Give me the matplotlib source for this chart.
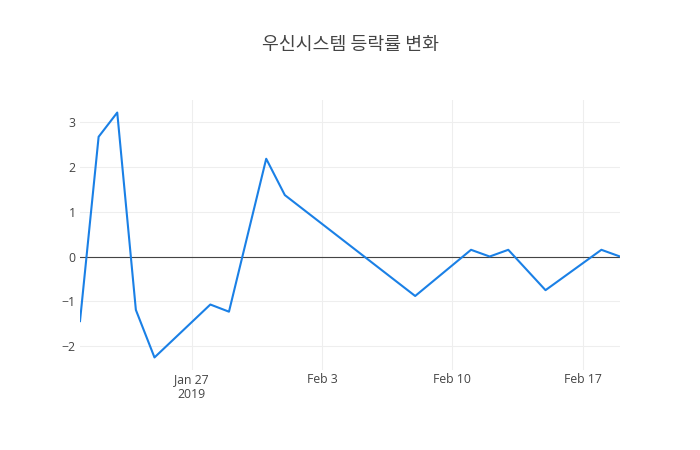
import numpy as np
import matplotlib
matplotlib.use("Agg")
import matplotlib.pyplot as plt
import pandas as pd

plt.rcParams['font.family'] = ['Open Sans', 'Noto Sans CJK KR', 'DejaVu Sans']

# daily change (%) of 우신시스템
dates = pd.to_datetime([
    "2019-01-21", "2019-01-22", "2019-01-23", "2019-01-24", "2019-01-25",
    "2019-01-28", "2019-01-29", "2019-01-31", "2019-02-01", "2019-02-08",
    "2019-02-11", "2019-02-12", "2019-02-13", "2019-02-15", "2019-02-18",
    "2019-02-19",
])
change = [-1.44, 2.67, 3.21, -1.19, -2.25,
          -1.07, -1.23, 2.18, 1.37, -0.88,
          0.15, 0.0, 0.15, -0.75, 0.15,
          0.0]

tick_dates = pd.to_datetime(["2019-01-27", "2019-02-03", "2019-02-10", "2019-02-17"])
tick_labels = ["Jan 27\n2019", "Feb 3", "Feb 10", "Feb 17"]
title = "우신시스템 등락률 변화"

fig = plt.figure(figsize=(7, 4.5), dpi=100)
ax = fig.add_axes([80 / 700, 80 / 450, 540 / 700, 270 / 450])

ax.plot(dates, change, color='#1a80e6', linewidth=1.5, zorder=3)
ax.axhline(0, color='#444444', linewidth=0.8, zorder=2)

ax.set_xlim(dates[0], dates[-1])
ax.set_ylim(-2.53, 3.49)
ax.set_xticks(tick_dates)
ax.set_xticklabels(tick_labels)
ax.set_yticks([-2, -1, 0, 1, 2, 3])

ax.grid(True, color='#eeeeee', linewidth=0.8, zorder=0)
ax.set_axisbelow(True)
for s in ax.spines.values():
    s.set_visible(False)
ax.tick_params(length=0, colors='#444444', labelsize=8.8)
ax.tick_params(axis='y', pad=3)
ax.tick_params(axis='x', pad=2)

fig.text(0.5, 1 - 45 / 450, title, ha='center', va='center',
         fontsize=13.2, color='#444444',
         family=['Noto Sans CJK KR', 'DejaVu Sans'])

fig.savefig("out.png", dpi=100)
